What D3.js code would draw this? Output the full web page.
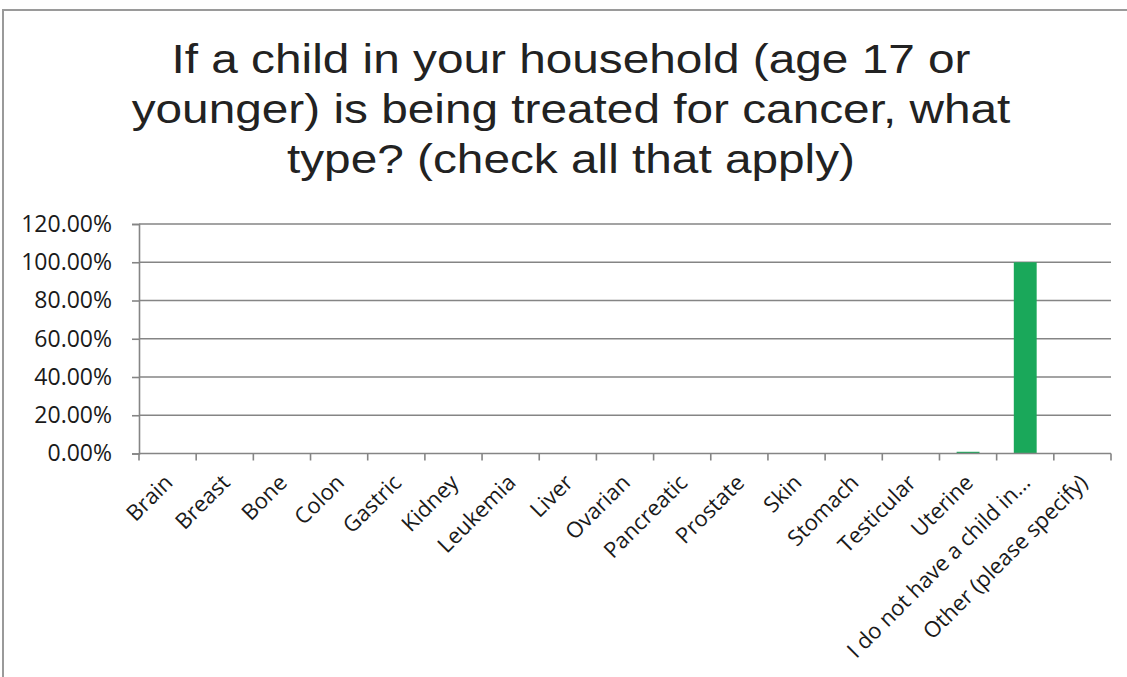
<!DOCTYPE html>
<html>
<head>
<meta charset="utf-8">
<script src="https://cdn.jsdelivr.net/npm/d3@7"></script>
<style>
  html, body { margin: 0; padding: 0; background: #fff; }
  svg { display: block; }
</style>
</head>
<body>
<svg id="chart" width="1127" height="677"></svg>
<script>
// ---- data ----
const categories = ["Brain", "Breast", "Bone", "Colon", "Gastric", "Kidney", "Leukemia", "Liver",
  "Ovarian", "Pancreatic", "Prostate", "Skin", "Stomach", "Testicular", "Uterine",
  "I do not have a child in...", "Other (please specify)"];
const values = [0, 0, 0, 0, 0, 0, 0, 0, 0, 0, 0, 0, 0, 0, 0.9, 100, 0];
const yTicks = [0, 20, 40, 60, 80, 100, 120];
const titleLines = ["If a child in your household (age 17 or",
  "younger) is being treated for cancer, what",
  "type? (check all that apply)"];

// ---- layout ----
const svg = d3.select("#chart");
const plot = { left: 139, right: 1111, top: 224, bottom: 453.5 };
const labelFont = "'Open Sans', 'Liberation Sans', sans-serif";

// frame
svg.append("rect")
  .attr("x", 3).attr("y", 10).attr("width", 1140).attr("height", 700)
  .attr("fill", "none").attr("stroke", "#9a9a9a").attr("stroke-width", 2);

// title (scan is slightly stretched horizontally)
svg.append("g").attr("transform", "translate(571,0) scale(1.165,1)")
  .selectAll("text").data(titleLines).join("text")
  .attr("x", 0).attr("y", (d, i) => 73 + i * 50)
  .attr("text-anchor", "middle")
  .attr("font-family", "Arial, 'Liberation Sans', sans-serif")
  .attr("font-size", 41)
  .attr("fill", "#222")
  .text(d => d);

const x = d3.scaleBand().domain(categories)
  .range([plot.left, plot.right]).paddingInner(0.6).paddingOuter(0.3);
const y = d3.scaleLinear().domain([0, 120]).range([plot.bottom, plot.top]);

// gridlines
svg.append("g").selectAll("line").data(yTicks.filter(d => d > 0)).join("line")
  .attr("x1", plot.left).attr("x2", plot.right)
  .attr("y1", d => y(d)).attr("y2", d => y(d))
  .attr("stroke", "#858585").attr("stroke-width", 1.6);

// y axis
const yAxis = svg.append("g").attr("transform", `translate(${plot.left},0)`)
  .call(d3.axisLeft(y).tickValues(yTicks).tickSize(7).tickPadding(20)
    .tickFormat(d => d.toFixed(2) + "%"));
yAxis.select(".domain").attr("stroke", "#858585").attr("stroke-width", 1.6);
yAxis.selectAll(".tick line").attr("stroke", "#858585").attr("stroke-width", 1.6);
yAxis.selectAll(".tick text")
  .attr("font-family", labelFont).attr("font-size", 23).attr("fill", "#1a1a1a");

// bars
svg.append("g").selectAll("rect").data(categories).join("rect")
  .attr("x", d => x(d))
  .attr("width", x.bandwidth())
  .attr("y", (d, i) => y(values[i]))
  .attr("height", (d, i) => y(0) - y(values[i]))
  .attr("fill", "#1aa85a");

// x axis line + ticks at category boundaries
const step = x.step();
const boundaries = d3.range(categories.length + 1).map(i => plot.left + i * step);
svg.append("line")
  .attr("x1", plot.left).attr("x2", plot.right)
  .attr("y1", y(0)).attr("y2", y(0))
  .attr("stroke", "#858585").attr("stroke-width", 1.6);
svg.append("g").selectAll("line").data(boundaries).join("line")
  .attr("x1", d => d).attr("x2", d => d)
  .attr("y1", y(0)).attr("y2", y(0) + 7)
  .attr("stroke", "#858585").attr("stroke-width", 1.6);

// x labels
svg.append("g").selectAll("text").data(categories).join("text")
  .attr("transform", d => `translate(${x(d) + x.bandwidth() / 2 + 1},${y(0) + 25}) rotate(-45)`)
  .attr("text-anchor", "end")
  .attr("dy", "0.35em")
  .attr("font-family", labelFont).attr("font-size", 22).attr("fill", "#1a1a1a")
  .text(d => d);
</script>
</body>
</html>
